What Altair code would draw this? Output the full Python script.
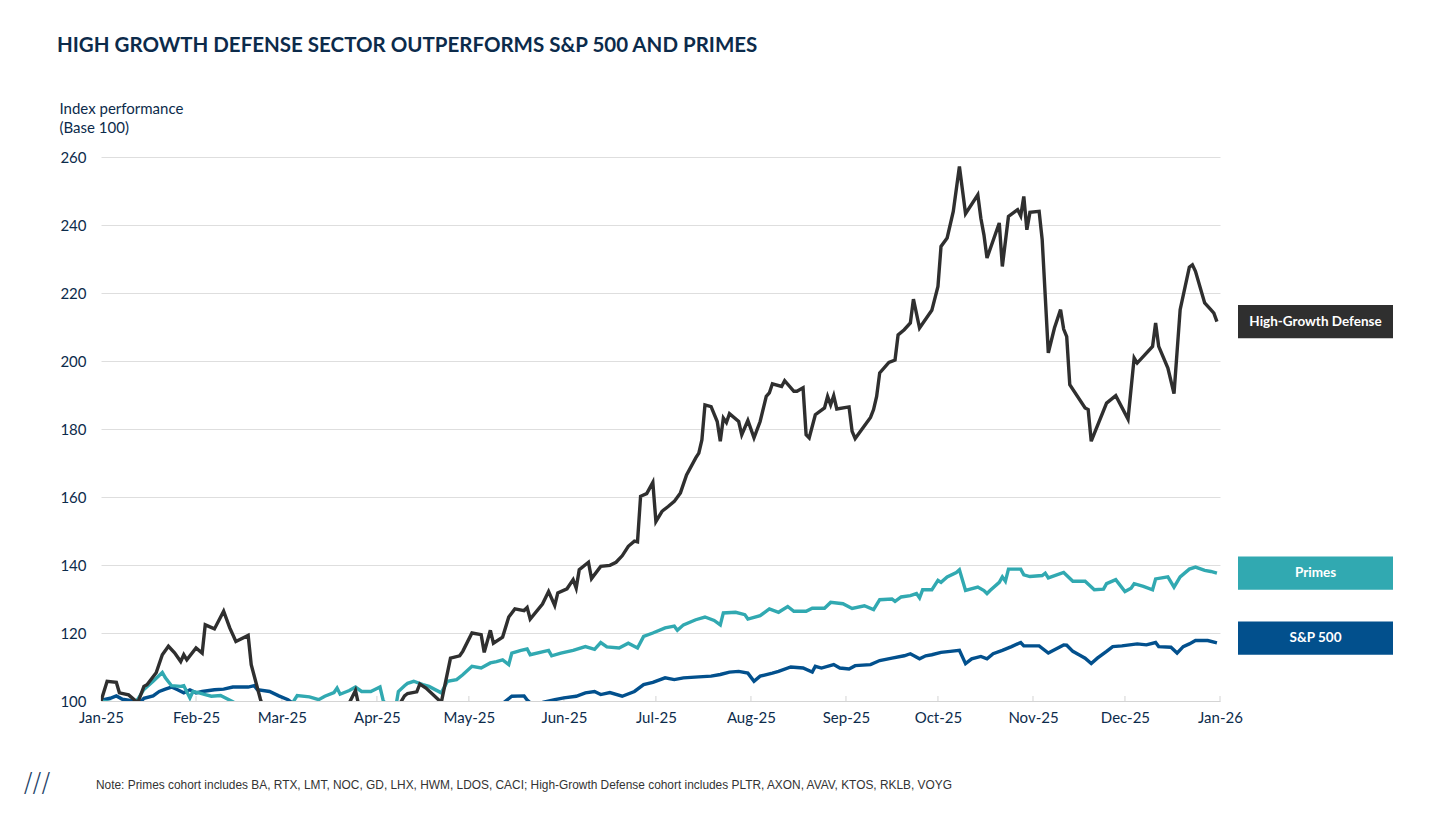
import altair as alt
import pandas as pd

# ---------------- data (day offsets from 2025-01-01, index values) ----------------
hg_days = [0, 2, 5, 6, 9, 12, 14, 15, 18, 20, 22, 24, 26, 27, 28, 31, 33, 34, 37, 40, 42, 44, 48, 49, 52, 54,
           60, 70, 78, 83, 85, 90, 96, 99, 100, 103, 104, 106, 111, 114, 117, 118, 121, 124, 125, 127, 128, 131,
           133, 135, 138, 139, 140, 144, 146, 148, 149, 152, 154, 155, 156, 159, 160, 163, 166, 168, 170, 172,
           174, 175, 176, 178, 180, 181, 183, 185, 187, 189, 191, 194, 195, 196, 197, 199, 201, 202, 203, 204,
           205, 208, 209, 211, 213, 215, 217, 218, 219, 222, 223, 226, 227, 229, 230, 231, 233, 236, 237, 238,
           239, 240, 244, 245, 246, 251, 252, 253, 254, 257, 259, 260, 262, 264, 265, 267, 271, 273, 274, 276,
           278, 280, 282, 286, 287, 288, 289, 293, 294, 296, 299, 300, 301, 302, 303, 306, 307, 309, 311, 313,
           314, 315, 316, 321, 322, 323, 328, 331, 335, 337, 338, 343, 344, 345, 348, 350, 352, 355, 356, 357,
           360, 362, 363, 364]
hg_vals = [100, 105.8, 105.5, 102.4, 101.8, 99.5, 104.3, 104.8, 108.3, 113.6, 116.1, 114.2, 111.6, 113.6, 112.1,
           115.6, 114.1, 122.4, 121.2, 126.4, 121.5, 117.5, 119.3, 110.7, 100.5, 95,
           90, 88, 94, 103.1, 95, 92, 97, 101.5, 102.2, 102.7, 105, 103.8, 99.6, 112.6, 113.3, 114.6, 120, 119.5,
           114.3, 120.8, 117, 118.8,
           124.7, 127.1, 126.6, 127.5, 124.1, 128.5, 132.2, 128.1, 131.8, 133, 135.7, 133.2, 138.6, 140.8, 136,
           139.6, 139.9, 140.8, 142.7, 145.5,
           147, 146.8, 160.2, 161, 164.3, 152.8, 155.8, 157.2, 158.7, 161.2, 166.5, 171.5, 172.9, 176.8, 187.1,
           186.6, 182.2, 176.4, 183.2, 181.9,
           184.5, 182.2, 178.3, 182.5, 177.4, 182.2, 189.6, 190.6, 193.3, 192.5, 194.2, 191.1, 191.1, 192.1, 178.3,
           177.4, 184.2, 186.2, 189.6, 187.1,
           189.8, 185.9, 186.5, 179.3, 177.2, 183.4, 185.7, 189.6, 196.5, 199.6, 200.3, 207.7, 209.2, 211.2, 218.2,
           209.7, 214.9, 221.9, 233.7, 236.2,
           244, 257.2, 243.3, 248.9, 242, 237.1, 230.3, 240.6, 227.8, 242.5, 244.5, 242.7, 248.4, 238.6, 243.7, 244,
           235.7, 202.4, 209.7, 215.1,
           209.4, 207.2, 193, 186.2, 185.7, 176.4, 187.6, 189.8, 182.9, 200.9, 199.4, 204.3, 211.2, 204.3, 197.9,
           190.4, 215.1, 227.6, 228.3, 226.4,
           217.1, 215.1, 214.1, 211.6]

pr_days = [0, 3, 8, 11, 12, 14, 17, 20, 21, 23, 26, 27, 29, 30, 32, 34, 36, 39, 43, 48, 55, 61, 63, 64, 68, 71,
           73, 76, 77, 78, 81, 83, 85, 88, 91, 92, 94, 96, 97, 99, 100, 102, 105, 107, 111, 113, 116, 118, 121,
           124, 127, 129, 131, 133, 134, 137, 139, 140, 146, 147, 150, 154, 158, 161, 163, 165, 169, 172, 175,
           177, 180, 184, 187, 188, 190, 194, 197, 200, 202, 203, 207, 210, 211, 215, 218, 221, 224, 226, 230,
           232, 236, 238, 242, 245, 249, 252, 254, 258, 259, 261, 264, 266, 267, 268, 271, 273, 274, 276, 279,
           280, 282, 286, 288, 289, 290, 293, 294, 295, 296, 300, 301, 303, 307, 308, 309, 314, 317, 321, 324,
           327, 328, 331, 334, 336, 337, 340, 343, 344, 348, 350, 352, 355, 357, 360, 362, 364]
pr_vals = [100, 99.6, 98.8, 99.6, 100.5, 103.4, 105.8, 108.4, 106.8, 104.5, 104.3, 104.5, 100.9, 102.8, 102.4,
           101.9, 101.4, 101.6, 99.8, 97, 95, 97, 100.2, 101.6, 101.2, 100.4,
           101.4, 102.5, 103.8, 102, 103.1, 104.1, 102.8, 102.8, 104.1, 100.3, 97, 97.5, 102.8, 104.5, 105.2,
           105.8, 104.8, 104.3, 102.4, 105.8, 106.3, 107.7, 110.2,
           109.7, 111.2, 111.6, 112.1, 110.7, 114.1, 114.9, 115.3, 113.6, 114.9, 113.3, 114.1, 114.9, 116, 115.2,
           117.2, 115.9, 115.6, 117, 115.6,
           119, 120, 121.5, 122, 120.8, 122.4, 123.9, 124.7, 123.7, 122.4, 125.9, 126.1, 125.4, 124.1, 125.1, 127.1,
           126.1, 127.8, 126.4, 126.4,
           127.3, 127.3, 129, 128.6, 127.2, 128, 126.9, 129.8, 130, 129.3, 130.6, 131, 131.6, 130.3, 132.7, 132.7,
           135.5, 134.9, 136.5, 137.8,
           138.6, 132.5, 133.5, 132.5, 131.6, 132.5, 134.9, 136.5, 135.2, 138.8, 138.8, 137.1, 136.6, 136.9, 137.6,
           136.2, 137.8, 135.2, 135.2, 132.7,
           132.9, 134.5, 135.7, 132.2, 133.2, 134.5, 133.7, 132.7, 135.9, 136.5, 133.5, 136.5, 138.8, 139.4, 138.4,
           138.1, 137.6]

sp_days = [0, 3, 5, 7, 10, 13, 14, 17, 19, 21, 23, 25, 27, 29, 31, 33, 37, 40, 43, 48, 50, 51, 55, 58, 61, 63,
           70, 80, 90, 98, 105, 115, 125, 130, 132, 134, 138, 139, 140, 144, 148, 151, 155, 158, 161, 163, 166,
           170, 174, 177, 180, 184, 187, 190, 195, 199, 202, 205, 208, 211, 213, 215, 219, 221, 225, 229, 232,
           233, 235, 239, 241, 244, 246, 251, 254, 258, 262, 264, 267, 269, 271, 274, 277, 280, 282, 284, 287,
           289, 291, 294, 297, 300, 301, 306, 309, 314, 315, 317, 319, 321, 323, 325, 328, 330, 333, 338, 341,
           344, 345, 349, 351, 353, 355, 357, 361, 364]
sp_vals = [100.2, 100.8, 101.5, 100.5, 100.1, 99.8, 100.8, 101.5, 102.8, 103.5, 104.1, 103.3, 102.4, 103.3, 102.4,
           102.8, 103.3, 103.5, 104.1, 104.1, 104.5, 103.3, 102.8, 101.5, 100.4, 99,
           95, 92, 88, 85, 87, 92, 96, 98.5, 100, 101.4, 101.5, 100.3, 99.5, 99.6, 100.4, 100.9, 101.4, 102.4,
           102.8, 101.9, 102.5,
           101.4, 102.8, 104.8, 105.5, 106.8, 106.3, 106.8, 107.1, 107.3, 107.8, 108.5, 108.7, 108.2, 105.8, 107.3,
           108.2, 108.7, 110, 109.7, 108.5,
           110.2, 109.7, 110.7, 109.7, 109.4, 110.4, 110.7, 111.9, 112.6, 113.3, 113.9, 112.4, 113.3, 113.6, 114.3,
           114.6, 114.9, 111, 112.4, 113.1,
           112.4, 113.9, 114.9, 116, 117.2, 116.2, 116.2, 114.1, 116.5, 116.4, 114.6, 113.6, 112.6, 111, 112.6,
           114.6, 116, 116.2, 116.8, 116.5,
           117.2, 116, 115.8, 114.1, 116, 116.8, 117.8, 117.8, 117.1]

series_names = ["High-Growth Defense", "Primes", "S&P 500"]
series_colors = ["#2f2f2f", "#31a9b1", "#02508d"]
label_values = [211.6, 137.6, 118.5]

month_ticks = ["2025-01-01", "2025-02-01", "2025-03-01", "2025-04-01", "2025-05-01", "2025-06-01",
               "2025-07-01", "2025-08-01", "2025-09-01", "2025-10-01", "2025-11-01", "2025-12-01", "2026-01-01"]
y_ticks = [100, 120, 140, 160, 180, 200, 220, 240, 260]

title_text = "HIGH GROWTH DEFENSE SECTOR OUTPERFORMS S&P 500 AND PRIMES"
note_text = ("Note: Primes cohort includes BA, RTX, LMT, NOC, GD, LHX, HWM, LDOS, CACI; "
             "High-Growth Defense cohort includes PLTR, AXON, AVAV, KTOS, RKLB, VOYG")

NAVY = "#0c2b4b"
FONT = "Lato"
BASE = pd.Timestamp("2025-01-01")


def frame(name, days, vals):
    return pd.DataFrame({
        "date": [(BASE + pd.Timedelta(days=d)).strftime("%Y-%m-%d") for d in days],
        "value": vals,
        "series": name,
    })


hg_df = frame(series_names[0], hg_days, hg_vals)
pr_df = frame(series_names[1], pr_days, pr_vals)
sp_df = frame(series_names[2], sp_days, sp_vals)
lab_df = pd.DataFrame({"series": series_names, "value": label_values})
tick_df = pd.DataFrame({"date": month_ticks})

W, H = 1119, 544

x_scale = alt.Scale(type="utc",
                    domain=[alt.DateTime(year=2025, month=1, date=1, utc=True),
                            alt.DateTime(year=2026, month=1, date=1, utc=True)])
y_scale = alt.Scale(domain=[100, 260], nice=False, zero=False)
color_scale = alt.Scale(domain=series_names, range=series_colors)

x_axis = alt.Axis(
    title=None, labelExpr="utcFormat(datum.value, '%b-%y')",
    values=[alt.DateTime(year=int(m[:4]), month=int(m[5:7]), date=1, utc=True) for m in month_ticks],
    ticks=False, grid=False, domain=True, domainColor="#d4d4d4", domainWidth=1,
    labelFont=FONT, labelFontSize=15, labelColor=NAVY, labelPadding=9, labelFlush=False,
)
y_axis = alt.Axis(
    title=["Index performance", "(Base 100)"], titleAngle=0, titleAlign="left", titleBaseline="alphabetic",
    titleX=-42, titleY=-44, titleFont=FONT, titleFontSize=15, titleFontWeight="normal", titleColor=NAVY,
    titleLineHeight=19.5,
    values=y_ticks, ticks=False, domain=False, grid=True, gridColor="#dedede", gridWidth=1,
    labelFont=FONT, labelFontSize=15, labelColor=NAVY, labelPadding=15,
)


def line_layer(df):
    return alt.Chart(df).mark_line(strokeWidth=3.4, clip=True, interpolate="linear").encode(
        x=alt.X("date:T", scale=x_scale, axis=x_axis),
        y=alt.Y("value:Q", scale=y_scale, axis=y_axis),
        color=alt.Color("series:N", scale=color_scale, legend=None),
    )


ticks = alt.Chart(tick_df).mark_rule(color="#d4d4d4", strokeWidth=1).encode(
    x=alt.X("date:T", scale=x_scale),
    y=alt.value(H - 5), y2=alt.value(H),
)

boxes = alt.Chart(lab_df).transform_calculate(
    top="datum.value + 4.9", bot="datum.value - 4.9"
).mark_rect().encode(
    x=alt.value(1137), x2=alt.value(1292),
    y=alt.Y("top:Q", scale=y_scale), y2="bot:Q",
    color=alt.Color("series:N", scale=color_scale, legend=None),
)
box_text = alt.Chart(lab_df).mark_text(
    color="white", font=FONT, fontWeight="bold", fontSize=13.5, align="center", baseline="middle"
).encode(
    x=alt.value(1214.5),
    y=alt.Y("value:Q", scale=y_scale),
    text="series:N",
)

title = alt.Chart(pd.DataFrame({"t": [title_text]})).mark_text(
    font=FONT, fontWeight="bold", fontSize=20.5, color=NAVY, align="left", baseline="middle"
).encode(x=alt.value(-44), y=alt.value(-111), text="t:N")

note = alt.Chart(pd.DataFrame({"t": [note_text]})).mark_text(
    font="Liberation Sans", fontSize=11.9, color="#333333", align="left", baseline="middle"
).encode(x=alt.value(-5), y=alt.value(628), text="t:N")

logo = alt.Chart(pd.DataFrame({"t": ["///"]})).mark_text(
    font="DejaVu Sans", fontSize=26, color="#1d3f66", align="center", baseline="middle", fontWeight=300
).encode(x=alt.value(-64), y=alt.value(627), text="t:N")

chart = alt.layer(
    ticks,
    line_layer(sp_df),
    line_layer(pr_df),
    line_layer(hg_df),
    boxes, box_text, title, note, logo,
).properties(
    width=W, height=H,
    padding={"left": 93, "top": 149, "right": 228, "bottom": 100},
    autosize=alt.AutoSizeParams(type="none"),
).configure(background="white").configure_view(stroke=None)

chart.save("out.html", embed_options={"renderer": "svg", "actions": False})
